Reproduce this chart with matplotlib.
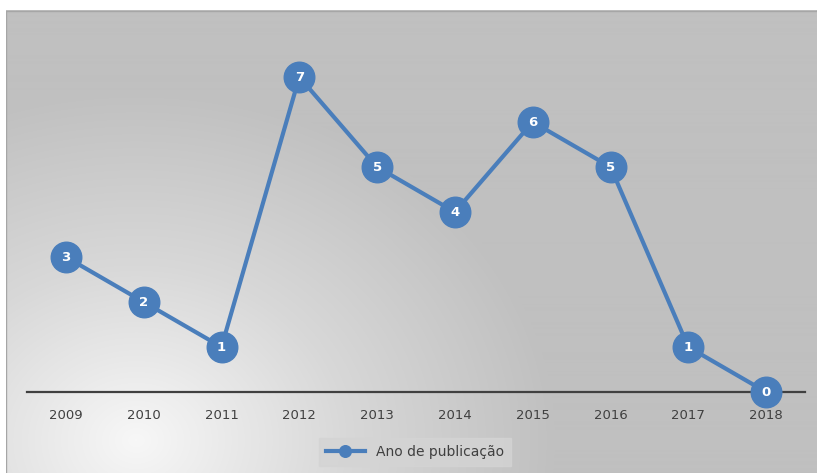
import numpy as np
import matplotlib.pyplot as plt
from matplotlib.colors import LinearSegmentedColormap

anos = ['2009', '2010', '2011', '2012', '2013', '2014', '2015', '2016', '2017', '2018']
publicacoes = [3, 2, 1, 7, 5, 4, 6, 5, 1, 0]
serie = 'Ano de publicação'

W, H = 817, 473
fig = plt.figure(figsize=(W / 100, H / 100), dpi=100)
fig.patch.set_facecolor('white')

# fundo com gradiente radial (claro no canto inferior esquerdo)
bg = fig.add_axes([6 / W, 0, 1 - 6 / W, (H - 10) / H])
bg.set_axis_off()
yy, xx = np.mgrid[0:463, 0:811]
dist = np.sqrt((xx - 130) ** 2 + ((yy - 430) * 1.2) ** 2)
t = np.clip(dist / 420, 0, 1)
cmap = LinearSegmentedColormap.from_list('bg', ['#f7f7f7', '#d8d8d8', '#c0c0c0'])
bg.imshow(t, cmap=cmap, aspect='auto', extent=[0, 1, 0, 1], origin='upper')
bg.set_xlim(0, 1)
bg.set_ylim(0, 1)
bg.plot([0.0005, 0.0005, 1, 1], [0, 0.9985, 0.9985, 1], color='#a6a6a6', lw=1)

ax = fig.add_axes([27 / W, (H - 392) / H, (805 - 27) / W, (392 - 32) / H])
ax.patch.set_alpha(0)
x = np.arange(len(anos))
ax.plot(x, publicacoes, color='#4a7ebb', lw=3, marker='o', markersize=22,
        markerfacecolor='#4a7ebb', markeredgecolor='#4a7ebb', label=serie,
        clip_on=False, zorder=3)
for xi, v in zip(x, publicacoes):
    ax.text(xi, v, str(v), color='white', fontsize=9.5, fontweight='bold',
            ha='center', va='center', zorder=4)

ax.set_xlim(-0.5, len(anos) - 0.5)
ax.set_ylim(0, 8)
ax.set_yticks([])
ax.set_xticks(x)
ax.set_xticklabels(anos, fontsize=9.5, color='#404040')
ax.tick_params(axis='x', length=0, pad=12)
for s in ['top', 'right', 'left']:
    ax.spines[s].set_visible(False)
ax.spines['bottom'].set_color('#404040')
ax.spines['bottom'].set_linewidth(1.6)
ax.spines['bottom'].set_zorder(2)

leg = fig.legend(handles=ax.get_lines(), loc='center',
                 bbox_to_anchor=(415 / W, 1 - 452 / H), frameon=True,
                 fontsize=10, markerscale=0.38, handlelength=2.8,
                 fancybox=False, borderpad=0.5)
leg.get_frame().set_facecolor('#d4d4d4')
leg.get_frame().set_edgecolor('#d4d4d4')
for txt in leg.get_texts():
    txt.set_color('#404040')

fig.savefig('out.png', dpi=100)
